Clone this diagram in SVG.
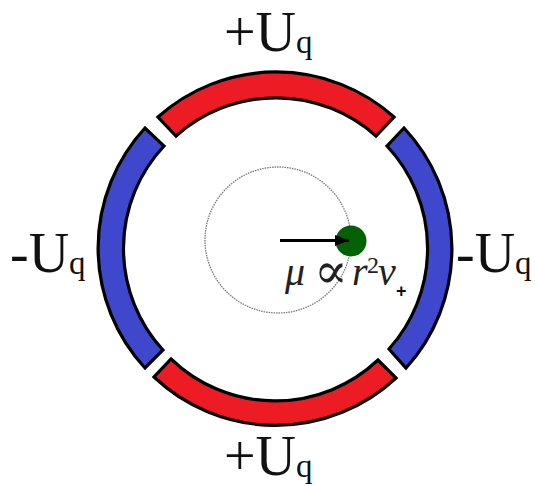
<svg xmlns="http://www.w3.org/2000/svg" width="535" height="486" viewBox="0 0 535 486">
<style>
.s{stroke:#000;stroke-width:3.200;stroke-linejoin:miter}
.r{fill:#ed1c24}
.b{fill:#3f48cc}
.t{font-family:"Liberation Serif",serif;font-size:56px;fill:#111}
.q{font-size:33px}
.m{font-family:"Liberation Serif",serif;font-style:italic;font-size:40px;fill:#222}
</style>
<defs><marker id="a" markerUnits="userSpaceOnUse" markerWidth="16" markerHeight="12" refX="14" refY="6" orient="auto"><path d="M0 0.500L14 6L0 11.500Z" fill="#000"/></marker></defs>
<rect width="535" height="486" fill="#fff"/>
<g id="plate-top"><path class="s r" d="M158 117A177 177 0 0 1 394 117L376 136A150 150 0 0 0 176 136Z"/></g>
<g id="plate-bottom"><path class="s r" d="M154 377A177 177 0 0 0 396 378L378 360A150 150 0 0 1 171 359Z"/></g>
<g id="plate-left"><path class="s b" d="M145 128A177 177 0 0 0 145 368L163 350A150 150 0 0 1 164 146Z"/></g>
<g id="plate-right"><path class="s b" d="M404 128A177 177 0 0 1 406 368L389 349A150 150 0 0 0 387 146Z"/></g>
<g id="orbit"><circle cx="278" cy="240" r="73" fill="none" stroke="#777" stroke-width="1.3" stroke-dasharray="1.500 1"/></g>
<g id="ion"><circle cx="351" cy="241" r="15.500" fill="#056105"/></g>
<g id="connectors"><line x1="280" y1="240.500" x2="349" y2="240.500" stroke="#000" stroke-width="3" marker-end="url(#a)"/></g>
<g id="label-top"><text class="t" x="224" y="51">+U<tspan class="q" dy="2">q</tspan></text></g>
<g id="label-bottom"><text class="t" x="224" y="475">+U<tspan class="q" dy="2">q</tspan></text></g>
<g id="label-left"><text class="t" x="10" y="272">-U<tspan class="q" dy="2">q</tspan></text></g>
<g id="label-right"><text class="t" x="456" y="272">-U<tspan class="q" dy="2">q</tspan></text></g>
<g id="formula"><text class="m" x="285" y="285">μ</text><text x="314" y="288" font-family="DejaVu Serif,serif" font-size="50" fill="#222">∝</text><text class="m" x="352" y="285">r</text><text x="367" y="273" font-family="Liberation Serif,serif" font-size="24" fill="#222">2</text><text class="m" x="378" y="285">v</text><text x="396" y="297" font-family="Liberation Sans,sans-serif" font-weight="700" font-size="18" fill="#111">+</text></g>
</svg>
